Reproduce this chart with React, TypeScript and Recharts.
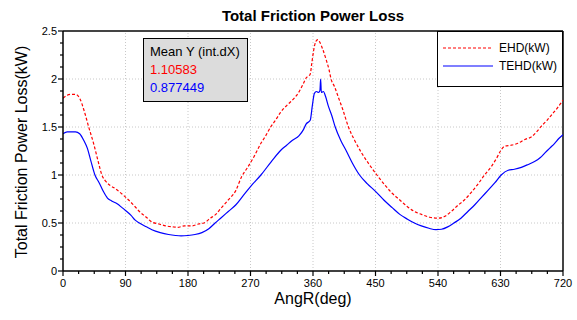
import React from 'react';
import { LineChart, Line, XAxis, YAxis, ReferenceLine } from 'recharts';

// [angle (deg), power loss (kW)]
const ehdPoints: [number, number][] = [
  [0, 1.8], [6, 1.83], [12, 1.84], [18, 1.84], [24, 1.8], [30, 1.68], [37, 1.5], [44, 1.33], [50, 1.16],
  [56, 1.0], [62, 0.93], [68, 0.89], [75, 0.86], [82, 0.82], [90, 0.77], [100, 0.7], [110, 0.62], [120, 0.56],
  [128, 0.51], [138, 0.49], [148, 0.47], [158, 0.46], [165, 0.455], [175, 0.47], [186, 0.47], [195, 0.49],
  [203, 0.5], [212, 0.55], [220, 0.59], [227, 0.65], [238, 0.74], [249, 0.84], [257, 0.98], [265, 1.07],
  [275, 1.19], [285, 1.33], [292, 1.41], [299, 1.5], [306, 1.57], [313, 1.65], [323, 1.73], [333, 1.8],
  [341, 1.88], [346, 1.95], [350, 2.01], [356, 2.05], [358, 2.15], [361, 2.3], [364, 2.39], [367, 2.41],
  [370, 2.38], [374, 2.31], [379, 2.2], [383, 2.1], [386, 2.0], [391, 1.92], [397, 1.8], [403, 1.68],
  [411, 1.5], [420, 1.36], [430, 1.23], [440, 1.12], [452, 1.0], [463, 0.9], [474, 0.81], [485, 0.74],
  [496, 0.67], [506, 0.62], [516, 0.59], [528, 0.56], [540, 0.55], [550, 0.57], [559, 0.62], [568, 0.68],
  [578, 0.74], [588, 0.82], [598, 0.91], [607, 1.0], [617, 1.09], [624, 1.17], [630, 1.25], [636, 1.3],
  [645, 1.31], [655, 1.33], [665, 1.37], [675, 1.4], [682, 1.45], [689, 1.51], [697, 1.57], [704, 1.63],
  [712, 1.7], [720, 1.78],
];

const tehdPoints: [number, number][] = [
  [0, 1.43], [6, 1.45], [12, 1.45], [18, 1.45], [24, 1.43], [30, 1.36], [35, 1.28], [40, 1.15], [46, 1.0],
  [52, 0.92], [58, 0.83], [64, 0.76], [70, 0.73], [78, 0.7], [85, 0.66], [90, 0.63], [98, 0.58], [104, 0.53],
  [110, 0.5], [120, 0.46], [128, 0.43], [140, 0.4], [152, 0.38], [162, 0.37], [170, 0.366], [180, 0.37],
  [190, 0.38], [200, 0.4], [210, 0.44], [219, 0.5], [227, 0.55], [238, 0.62], [249, 0.69], [260, 0.79],
  [270, 0.88], [285, 1.0], [300, 1.14], [314, 1.26], [322, 1.31], [330, 1.36], [340, 1.41], [346, 1.47],
  [350, 1.53], [356, 1.57], [359, 1.72], [362, 1.85], [365, 1.87], [368, 1.86], [370, 1.88], [371, 2.0],
  [372, 1.86], [375, 1.87], [378, 1.82], [382, 1.72], [387, 1.62], [392, 1.5], [400, 1.36], [408, 1.25],
  [417, 1.12], [427, 1.0], [438, 0.91], [450, 0.83], [462, 0.74], [474, 0.66], [485, 0.59], [496, 0.54],
  [506, 0.5], [516, 0.47], [527, 0.445], [537, 0.43], [545, 0.435], [554, 0.46], [563, 0.5], [573, 0.55],
  [583, 0.62], [593, 0.69], [603, 0.77], [612, 0.84], [622, 0.92], [631, 1.0], [641, 1.05], [650, 1.06],
  [660, 1.08], [670, 1.11], [679, 1.14], [687, 1.18], [694, 1.23], [701, 1.28], [708, 1.33], [714, 1.38],
  [720, 1.42],
];

const xMajorTicks = [0, 90, 180, 270, 360, 450, 540, 630, 720];
const yMajorTicks = [0, 0.5, 1, 1.5, 2, 2.5];
const seriesNames = ['EHD(kW)', 'TEHD(kW)'];
const meanValues = ['1.10583', '0.877449'];

// minor ticks: 4 steps per major on x, 4 steps per major on y
const xTicks = xMajorTicks.flatMap((t, i) =>
  i === xMajorTicks.length - 1 ? [t] : [t, t + 22.5, t + 45, t + 67.5]
);
const yTicks = yMajorTicks.flatMap((t, i) =>
  i === yMajorTicks.length - 1 ? [t] : [t, t + 0.125, t + 0.25, t + 0.375]
);

const ehdData = ehdPoints.map(([deg, v]) => ({ deg, v }));
const tehdData = tehdPoints.map(([deg, v]) => ({ deg, v }));

const FONT = 'Arial, "Liberation Sans", sans-serif';

const XTick = (props: any) => {
  const { x, y, payload } = props;
  const major = xMajorTicks.includes(payload.value);
  return (
    <g>
      <line x1={x} y1={y} x2={x} y2={y + (major ? 5 : 3)} stroke="#000" strokeWidth={1.2} />
      {major && (
        <text x={x} y={y + 16} textAnchor="middle" fontSize={11} fill="#000" fontFamily={FONT}>
          {payload.value}
        </text>
      )}
    </g>
  );
};

const YTick = (props: any) => {
  const { x, y, payload } = props;
  const major = yMajorTicks.includes(payload.value);
  return (
    <g>
      <line x1={x} y1={y} x2={x - (major ? 5 : 3)} y2={y} stroke="#000" strokeWidth={1.2} />
      {major && (
        <text x={x - 6} y={y + 4} textAnchor="end" fontSize={11} fill="#000" fontFamily={FONT}>
          {payload.value}
        </text>
      )}
    </g>
  );
};

export default function App() {
  return (
    <div
      style={{
        position: 'absolute',
        left: 0,
        top: 0,
        width: 577,
        height: 320,
        background: '#fff',
        fontFamily: FONT,
        color: '#000',
      }}
    >
      <LineChart width={577} height={320} margin={{ top: 31, right: 14, bottom: 29, left: 0 }}>
        <XAxis
          dataKey="deg"
          type="number"
          domain={[0, 720]}
          ticks={xTicks}
          interval={0}
          tickSize={0}
          tickMargin={0}
          tickLine={false}
          tick={<XTick />}
          axisLine={{ stroke: '#000', strokeWidth: 1.5 }}
          height={20}
          allowDataOverflow
        />
        <YAxis
          type="number"
          domain={[0, 2.5]}
          ticks={yTicks}
          interval={0}
          tickSize={0}
          tickMargin={0}
          tickLine={false}
          tick={<YTick />}
          axisLine={{ stroke: '#000', strokeWidth: 1.5 }}
          width={63}
          allowDataOverflow
        />
        {xMajorTicks.slice(1, -1).map((t) => (
          <ReferenceLine key={'x' + t} x={t} stroke="#c8c8c8" strokeDasharray="1 2" />
        ))}
        {yMajorTicks.slice(1, -1).map((t) => (
          <ReferenceLine key={'y' + t} y={t} stroke="#c8c8c8" strokeDasharray="1 2" />
        ))}
        <ReferenceLine y={2.5} stroke="#444" strokeWidth={2} />
        <ReferenceLine x={720} stroke="#444" strokeWidth={2} />
        <Line
          data={ehdData}
          dataKey="v"
          type="monotone"
          stroke="#ff0000"
          strokeWidth={1.2}
          strokeDasharray="3 2"
          dot={false}
          isAnimationActive={false}
        />
        <Line
          data={tehdData}
          dataKey="v"
          type="monotone"
          stroke="#0000ff"
          strokeWidth={1.2}
          dot={false}
          isAnimationActive={false}
        />
      </LineChart>

      <div
        style={{
          position: 'absolute',
          left: 313,
          top: 7,
          transform: 'translateX(-50%)',
          fontSize: 15,
          fontWeight: 'bold',
          whiteSpace: 'nowrap',
        }}
      >
        Total Friction Power Loss
      </div>
      <div
        style={{
          position: 'absolute',
          left: 313,
          top: 291,
          transform: 'translateX(-50%)',
          fontSize: 16,
          lineHeight: 1,
          whiteSpace: 'nowrap',
        }}
      >
        AngR(deg)
      </div>
      <div
        style={{
          position: 'absolute',
          left: 22,
          top: 152,
          transform: 'translate(-50%, -50%) rotate(-90deg)',
          fontSize: 16,
          whiteSpace: 'nowrap',
        }}
      >
        Total Friction Power Loss(kW)
      </div>

      {/* integral mean box */}
      <div
        style={{
          position: 'absolute',
          left: 143,
          top: 38,
          width: 105,
          height: 64,
          background: '#dcdcdc',
          border: '1px solid #000',
          fontSize: 13,
          lineHeight: '18px',
          padding: '4px 0 0 6px',
          boxSizing: 'border-box',
        }}
      >
        <div>Mean Y (int.dX)</div>
        <div style={{ color: '#ff0000' }}>{meanValues[0]}</div>
        <div style={{ color: '#0000ff' }}>{meanValues[1]}</div>
      </div>

      {/* legend */}
      <div
        style={{
          position: 'absolute',
          left: 437,
          top: 31,
          width: 126,
          height: 56,
          background: '#fff',
          border: '1px solid #000',
          boxSizing: 'border-box',
          fontSize: 12,
        }}
      >
        {seriesNames.map((name, i) => (
          <div key={name} style={{ position: 'absolute', left: 5, top: 8 + i * 18, height: 16, display: 'flex', alignItems: 'center' }}>
            <svg width={50} height={4} style={{ display: 'block' }}>
              <line
                x1={0}
                y1={2}
                x2={50}
                y2={2}
                stroke={i === 0 ? '#ff0000' : '#0000ff'}
                strokeWidth={1.2}
                strokeDasharray={i === 0 ? '3 2' : undefined}
              />
            </svg>
            <span style={{ marginLeft: 6 }}>{name}</span>
          </div>
        ))}
      </div>
    </div>
  );
}
